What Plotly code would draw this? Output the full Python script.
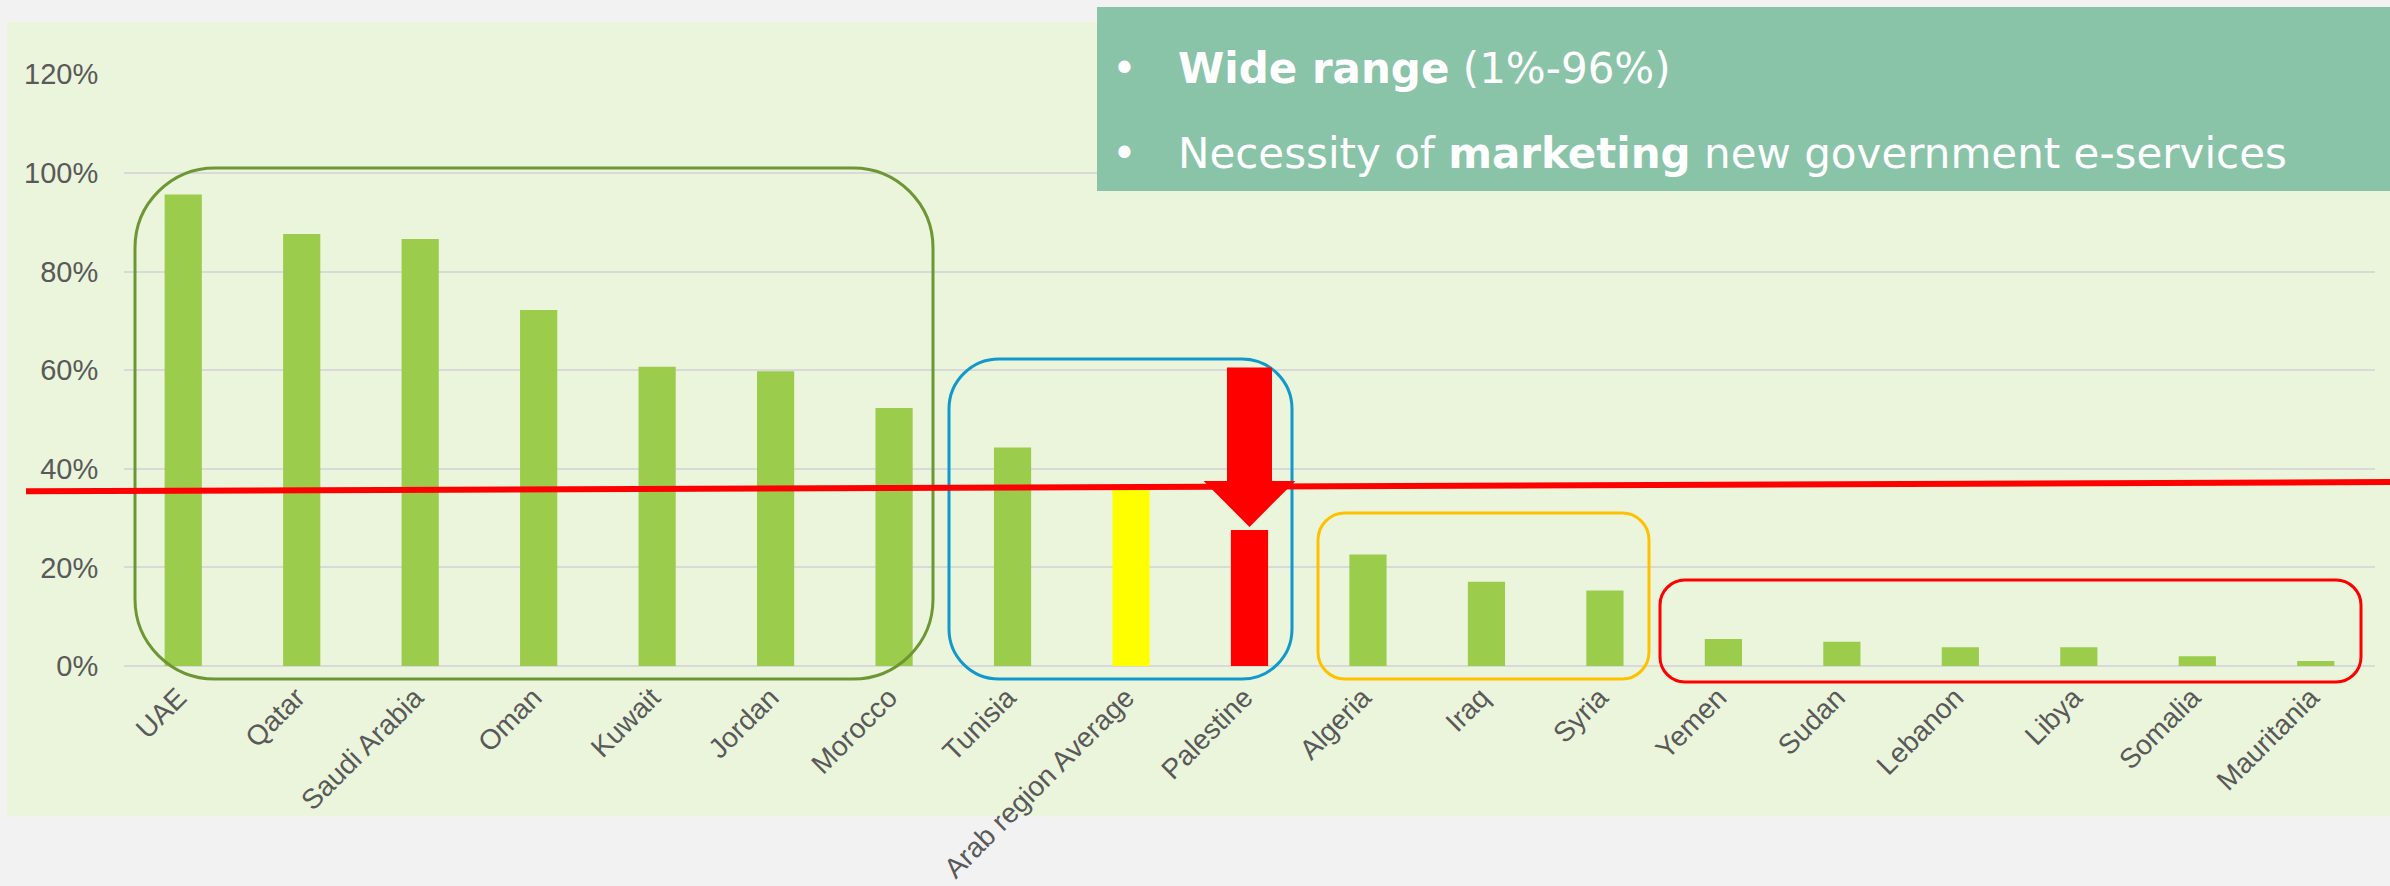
import plotly.graph_objects as go

# ---------------- data ----------------
countries = ["UAE", "Qatar", "Saudi Arabia", "Oman", "Kuwait", "Jordan", "Morocco",
             "Tunisia", "Arab region Average", "Palestine",
             "Algeria", "Iraq", "Syria",
             "Yemen", "Sudan", "Lebanon", "Libya", "Somalia", "Mauritania"]
values = [0.956, 0.876, 0.866, 0.722, 0.607, 0.598, 0.523,
          0.443, 0.360, 0.276,
          0.226, 0.171, 0.153,
          0.055, 0.049, 0.038, 0.038, 0.020, 0.010]
y_ticks = [0, 0.2, 0.4, 0.6, 0.8, 1.0, 1.2]
avg_line = [0.354, 0.373]          # red reference line, left / right end
arrow_top = 0.605                   # Palestine arrow: top of shaft
arrow_head = 0.375                  # arrow head base
arrow_tip = 0.282                   # arrow tip
bullet_lines = ["<b>Wide range</b> (1%-96%)",
                "Necessity of <b>marketing</b> new government e-services"]

# ---------------- styling ----------------
W, H = 2390, 886
ML, MR, MT, MB = 124, 15, 74, 220
PW, PH = W - ML - MR, H - MT - MB
YMAX = 1.2
N = len(countries)

GREEN = "#9BCC4C"
BG_GREEN = "#EBF5DC"
PAGE = "#F2F2F2"
TEAL = "#8AC4A8"
GRAY = "#595959"
FONT = "Arial, Liberation Sans, sans-serif"

bar_colors = [GREEN] * N
bar_colors[countries.index("Arab region Average")] = "#FFFF00"
bar_colors[countries.index("Palestine")] = "#FF0000"


def px(x):  # pixel -> paper x
    return (x - ML) / PW


def py(y):  # pixel -> paper y
    return (H - MB - y) / PH


def cx(i):  # category index -> paper x
    return (i + 0.5) / N


def vy(v):  # value -> paper y
    return v / YMAX


def rounded(x0, y0, x1, y1, r):
    k = 0.5523
    X0, X1, Y0, Y1 = px(x0), px(x1), py(y0), py(y1)
    rx, ry = r / PW, r / PH
    p = []
    p.append(f"M{X0+rx},{Y0}")
    p.append(f"L{X1-rx},{Y0}")
    p.append(f"C{X1-rx+k*rx},{Y0} {X1},{Y0-ry+k*ry} {X1},{Y0-ry}")
    p.append(f"L{X1},{Y1+ry}")
    p.append(f"C{X1},{Y1+ry-k*ry} {X1-rx+k*rx},{Y1} {X1-rx},{Y1}")
    p.append(f"L{X0+rx},{Y1}")
    p.append(f"C{X0+rx-k*rx},{Y1} {X0},{Y1+ry-k*ry} {X0},{Y1+ry}")
    p.append(f"L{X0},{Y0-ry}")
    p.append(f"C{X0},{Y0-ry+k*ry} {X0+rx-k*rx},{Y0} {X0+rx},{Y0}")
    p.append("Z")
    return " ".join(p)


fig = go.Figure()
fig.add_trace(go.Bar(x=countries, y=values, marker_color=bar_colors,
                     marker_line_width=0, hoverinfo="x+y"))

shapes = []
# light green chart area
shapes.append(dict(type="rect", xref="paper", yref="paper",
                   x0=px(7), x1=px(W + 5), y0=py(22), y1=py(816),
                   fillcolor=BG_GREEN, line_width=0, layer="below"))
# group boxes
shapes.append(dict(type="path", xref="paper", yref="paper",
                   path=rounded(135, 168, 933, 679, 80),
                   line=dict(color="#6E9634", width=3), layer="above"))
shapes.append(dict(type="path", xref="paper", yref="paper",
                   path=rounded(949, 359, 1292, 679, 50),
                   line=dict(color="#1199CC", width=3), layer="above"))
shapes.append(dict(type="path", xref="paper", yref="paper",
                   path=rounded(1318, 513, 1649, 679, 27),
                   line=dict(color="#FFC000", width=3), layer="above"))
shapes.append(dict(type="path", xref="paper", yref="paper",
                   path=rounded(1660, 580, 2361, 682, 25),
                   line=dict(color="#FF0000", width=3), layer="above"))
# red average line
shapes.append(dict(type="line", xref="paper", yref="paper",
                   x0=px(26), x1=px(W + 5), y0=vy(avg_line[0]), y1=vy(avg_line[1]),
                   line=dict(color="#FF0000", width=6), layer="above"))
# arrow on Palestine
pi = countries.index("Palestine")
sw, hw = 0.19 / N, 0.387 / N
c = cx(pi)
arrow = (f"M{c-sw},{vy(arrow_top)} L{c+sw},{vy(arrow_top)} L{c+sw},{vy(arrow_head)} "
         f"L{c+hw},{vy(arrow_head)} L{c},{vy(arrow_tip)} L{c-hw},{vy(arrow_head)} "
         f"L{c-sw},{vy(arrow_head)} Z")
shapes.append(dict(type="path", xref="paper", yref="paper", path=arrow,
                   fillcolor="#FF0000", line_width=0, layer="above"))
# teal text box
shapes.append(dict(type="rect", xref="paper", yref="paper",
                   x0=px(1097), x1=px(W + 5), y0=py(7), y1=py(191),
                   fillcolor=TEAL, line_width=0, layer="above"))

annotations = []
for i, (txt, yc) in enumerate(zip(bullet_lines, [68, 154])):
    annotations.append(dict(xref="paper", yref="paper", x=px(1124), y=py(yc),
                            text="•", showarrow=False, xanchor="center", yanchor="middle",
                            font=dict(family="DejaVu Sans", size=42, color="white")))
    annotations.append(dict(xref="paper", yref="paper", x=px(1176), y=py(yc),
                            text=txt, showarrow=False, xanchor="left", yanchor="middle",
                            font=dict(family="DejaVu Sans", size=42, color="white")))

fig.update_layout(
    width=W, height=H, autosize=False,
    margin=dict(l=ML, r=MR, t=MT, b=MB, pad=0, autoexpand=False),
    paper_bgcolor=PAGE, plot_bgcolor="rgba(0,0,0,0)",
    showlegend=False,
    bargap=0.686,
    font=dict(family=FONT, size=28, color=GRAY),
    shapes=shapes, annotations=annotations,
    xaxis=dict(tickangle=-45, tickfont=dict(size=28, color=GRAY, family=FONT),
               ticks="outside", ticklen=3, tickcolor="rgba(0,0,0,0)",
               ticklabelshift=-5,
               showgrid=False, showline=False, zeroline=False, automargin=False),
    yaxis=dict(range=[0, YMAX * 1.0005], tickvals=y_ticks, tickformat=".0%",
               tickfont=dict(size=29, color=GRAY, family=FONT),
               ticks="outside", ticklen=19, tickcolor="rgba(0,0,0,0)",
               showgrid=True, gridcolor="#D9D9D9", gridwidth=2,
               zeroline=True, zerolinecolor="#D9D9D9", zerolinewidth=2,
               showline=False, automargin=False),
)

fig.write_html(
    "out.html",
    config={"displayModeBar": False},
    post_script="document.body.style.margin='0px';document.body.style.overflow='hidden';",
)
